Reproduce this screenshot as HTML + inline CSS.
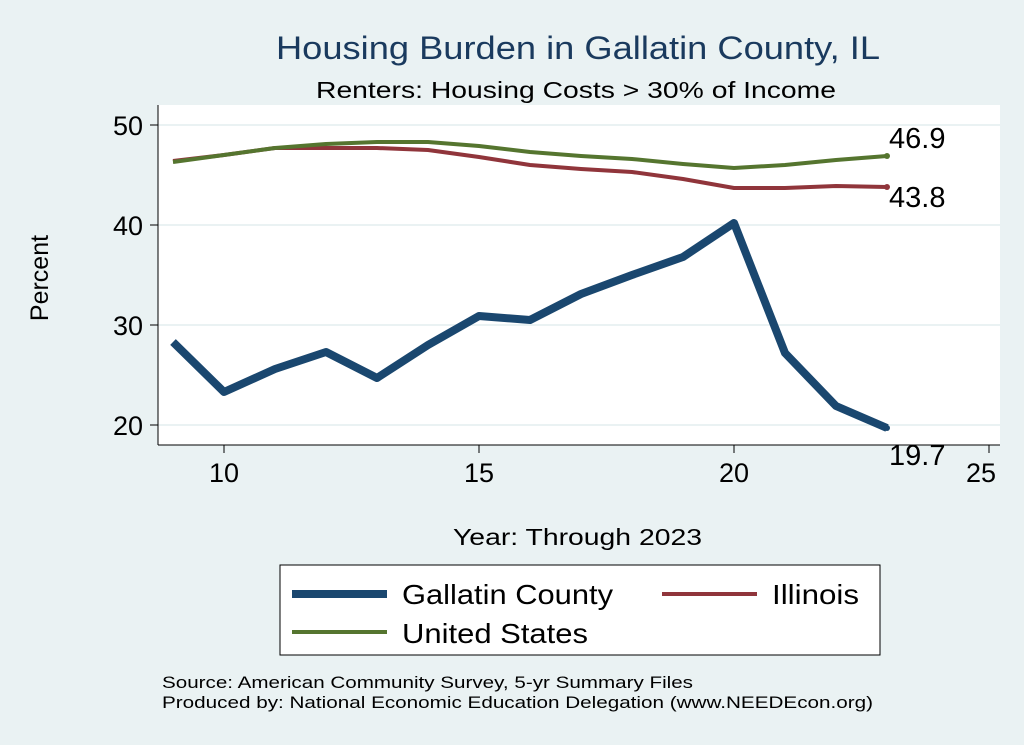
<!DOCTYPE html>
<html><head><meta charset="utf-8"><style>
body{margin:0;background:#eaf2f3;}
svg{display:block;font-family:"Liberation Sans",sans-serif;}
</style></head><body>
<svg width="1024" height="745">
<rect width="1024" height="745" fill="#eaf2f3"/>
<rect x="158" y="105" width="842" height="340" fill="#fff"/>
<text x="276" y="59" font-size="32" fill="#1a3a5e" textLength="604" lengthAdjust="spacingAndGlyphs">Housing Burden in Gallatin County, IL</text>
<text x="316" y="98" font-size="23" fill="#000" textLength="520" lengthAdjust="spacingAndGlyphs">Renters: Housing Costs &gt; 30% of Income</text>
<g id="grid"></g>
<g id="axes"></g>
<g id="series"></g>
<text x="48" y="278" font-size="25" text-anchor="middle" transform="rotate(-90 48 278)">Percent</text>
<text x="453" y="545" font-size="23" textLength="249" lengthAdjust="spacingAndGlyphs">Year: Through 2023</text>
<g>
<rect x="280" y="565" width="600" height="90" fill="#fff" stroke="#000" stroke-width="1"/>
<line x1="292" y1="594" x2="387" y2="594" stroke="#1a476f" stroke-width="8"/>
<text x="402" y="604" font-size="28" textLength="211" lengthAdjust="spacingAndGlyphs">Gallatin County</text>
<line x1="662" y1="594" x2="757" y2="594" stroke="#90353b" stroke-width="4"/>
<text x="772" y="604" font-size="28" textLength="87" lengthAdjust="spacingAndGlyphs">Illinois</text>
<line x1="292" y1="632" x2="387" y2="632" stroke="#55752f" stroke-width="4"/>
<text x="402" y="643" font-size="28" textLength="186" lengthAdjust="spacingAndGlyphs">United States</text>
</g>
<text x="162" y="688" font-size="17" textLength="531" lengthAdjust="spacingAndGlyphs">Source: American Community Survey, 5-yr Summary Files</text>
<text x="162" y="708" font-size="17" textLength="711" lengthAdjust="spacingAndGlyphs">Produced by: National Economic Education Delegation (www.NEEDEcon.org)</text>
</svg>
<script>
const years=[9,10,11,12,13,14,15,16,17,18,19,20,21,22,23];
const gallatin=[28.3,23.3,25.6,27.3,24.7,28.0,30.9,30.5,33.1,35.0,36.8,40.2,27.2,21.9,19.7];
const illinois=[46.4,47.0,47.7,47.7,47.7,47.5,46.8,46.0,45.6,45.3,44.6,43.7,43.7,43.9,43.8];
const us=[46.3,47.0,47.7,48.1,48.3,48.3,47.9,47.3,46.9,46.6,46.1,45.7,46.0,46.5,46.9];
const xTicks=[10,15,20,25];
const yTicks=[20,30,40,50];
const NS='http://www.w3.org/2000/svg';
const X=v=>224+(v-10)*51;
const Y=v=>425-(v-20)*10;
function mk(t,a,p){const e=document.createElementNS(NS,t);for(const k in a)e.setAttribute(k,a[k]);p.appendChild(e);return e;}
const grid=document.getElementById('grid'),axes=document.getElementById('axes'),ser=document.getElementById('series');
yTicks.forEach(v=>{
 const g=mk('line',{x1:158,x2:1000,y1:Y(v),y2:Y(v),stroke:'#eaf2f3','stroke-width':2},grid);
 
 
 const tk=mk('line',{x1:150,x2:158,y1:Y(v),y2:Y(v),stroke:'#000'},axes);
 
 
 const t=mk('text',{x:143,y:Y(v)+10,'font-size':27,'text-anchor':'end'},axes);t.textContent=v;
 
 
});
xTicks.forEach(v=>{
 const tk=mk('line',{x1:X(v),x2:X(v),y1:445,y2:453,stroke:'#000'},axes);
 
 
 const t=mk('text',{x:X(v)-(v===25?8:0),y:482,'font-size':27,'text-anchor':'middle'},axes);t.textContent=v;
 
 
});
const ya=mk('line',{x1:158,x2:158,y1:105,y2:445,stroke:'#000'},axes);


const xa=mk('line',{x1:158,x2:1000,y1:445,y2:445,stroke:'#000'},axes);


function line(vals,color,w,name){
 const p=mk('polyline',{points:years.map((y,i)=>X(y)+','+Y(vals[i])).join(' '),fill:'none',stroke:color,'stroke-width':w,'stroke-linejoin':'round'},ser);
 
 
 const n=vals.length-1;
 const c=mk('circle',{cx:X(years[n]),cy:Y(vals[n]),r:3,fill:color},ser);
 
 
}
line(illinois,'#90353b',4,'line-illinois');
line(us,'#55752f',4,'line-us');
line(gallatin,'#1a476f',8,'line-gallatin');
function lab(v,dy,name){const n=years.length-1;const t=mk('text',{x:X(years[n])+2,y:Y(v)+dy,'font-size':29},ser);t.textContent=v.toFixed(1);
 
 }
lab(us[us.length-1],-8,'label-us-last');
lab(illinois[illinois.length-1],20,'label-illinois-last');
lab(gallatin[gallatin.length-1],37,'label-gallatin-last');
</script>
</body></html>
